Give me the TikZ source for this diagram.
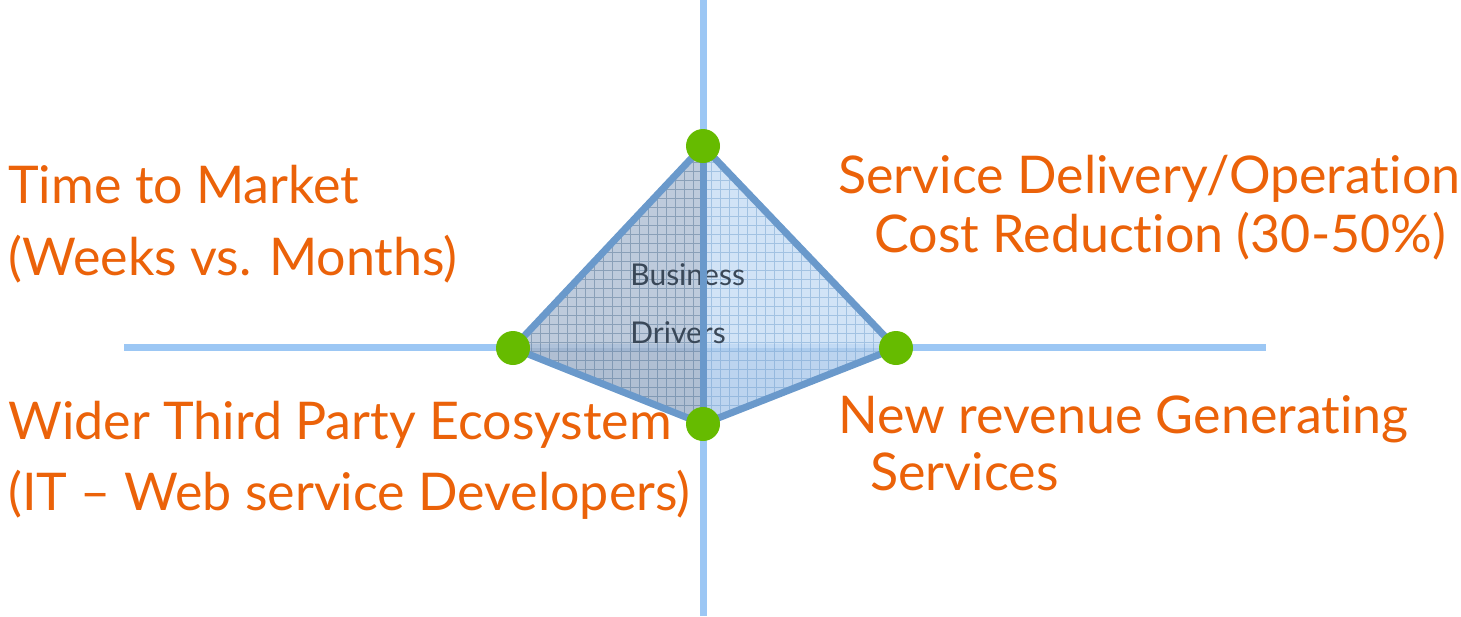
\documentclass[tikz,border=0pt]{standalone}
\usepackage{fontspec}
\setmainfont{Lato}[Ligatures=NoCommon]
\usetikzlibrary{positioning}
\definecolor{axisblue}{HTML}{9CC7F4}
\definecolor{edgeblue}{HTML}{6A99CB}
\definecolor{dotgreen}{HTML}{66BB00}
\definecolor{labelorange}{HTML}{EB6209}
\definecolor{driverink}{HTML}{3A4858}
\definecolor{faceA}{HTML}{B3C2D6}
\definecolor{faceB}{HTML}{C9DEF4}
\definecolor{faceC}{HTML}{A2B4CB}
\definecolor{faceD}{HTML}{B0CDEC}
\tikzset{
  axisline/.style={draw=axisblue,line width=3.5pt},
  edge/.style={draw=edgeblue,line width=3.5pt,line cap=round,line join=round},
  corner/.style={circle,fill=dotgreen,minimum width=17pt,minimum height=16pt,inner sep=0pt},
  gridleft/.style={draw=edgeblue!70!black,line width=0.3pt,opacity=0.45,step=4.5pt},
  gridright/.style={draw=edgeblue,line width=0.3pt,opacity=0.45,step=4.5pt},
  driver/.style={text=labelorange,inner sep=0pt,align=left,font=\fontsize{26}{36}\selectfont},
  hubtext/.style={text=driverink,inner sep=0pt,align=left,font=\fontsize{15}{29}\selectfont},
}
\begin{document}
\begin{tikzpicture}[x=0.5pt,y=-0.5pt]
  \useasboundingbox (0,0) rectangle (1461,616);

  \coordinate (ntop) at (703,0);
  \coordinate (nbot) at (703,616);
  \coordinate (wend) at (124,347.5);
  \coordinate (eend) at (1266,347.5);
  \coordinate (hub) at (703,348);
  \coordinate (apex) at (703,146);
  \coordinate (west) at (513,348);
  \coordinate (east) at (896,348);
  \coordinate (foot) at (703,424);

  \draw[axisline] (ntop) -- (nbot);
  \draw[axisline] (wend) -- (eend);

  % pyramid faces
  \fill[faceA,opacity=0.85] (apex) -- (west) -- (hub) -- cycle;
  \fill[faceB,opacity=0.85] (apex) -- (hub) -- (east) -- cycle;
  \fill[faceC,opacity=0.85] (west) -- (foot) -- (hub) -- cycle;
  \fill[faceD,opacity=0.85] (hub) -- (foot) -- (east) -- cycle;

  \begin{scope}
    \clip (apex) -- (west) -- (foot) -- cycle;
    \draw[gridleft] (480,120) grid (704,440);
  \end{scope}
  \begin{scope}
    \clip (apex) -- (foot) -- (east) -- cycle;
    \draw[gridright] (702,120) grid (920,440);
  \end{scope}

  \node[hubtext,anchor=base west] (drivers) at (630,343) {Business\\Drivers};

  \draw[edge] (apex) -- (west) -- (foot) -- (east) -- cycle;
  \draw[edge] (apex) -- (foot);

  \node[corner] (apexdot) at (apex) {};
  \node[corner] (westdot) at (west) {};
  \node[corner] (eastdot) at (east) {};
  \node[corner] (footdot) at (foot) {};

  % quadrant labels
  \node[driver,anchor=base west] (market) at (8,275)
    {Time to Market\\(Weeks vs. Months)};
  \node[driver,anchor=base west,font=\fontsize{26}{29.5}\selectfont] (cost) at (838,252)
    {Service Delivery/Operation\\\hspace*{18pt}Cost Reduction (30-50\%)};
  \node[driver,anchor=base west,font=\fontsize{26}{35.5}\selectfont] (ecosystem) at (8,510)
    {Wider Third Party Ecosystem\\(IT -- Web service Developers)};
  \node[driver,anchor=base west,font=\fontsize{26}{28.5}\selectfont] (revenue) at (838,490)
    {New revenue Generating\\\hspace*{16pt}Services};
\end{tikzpicture}
\end{document}
